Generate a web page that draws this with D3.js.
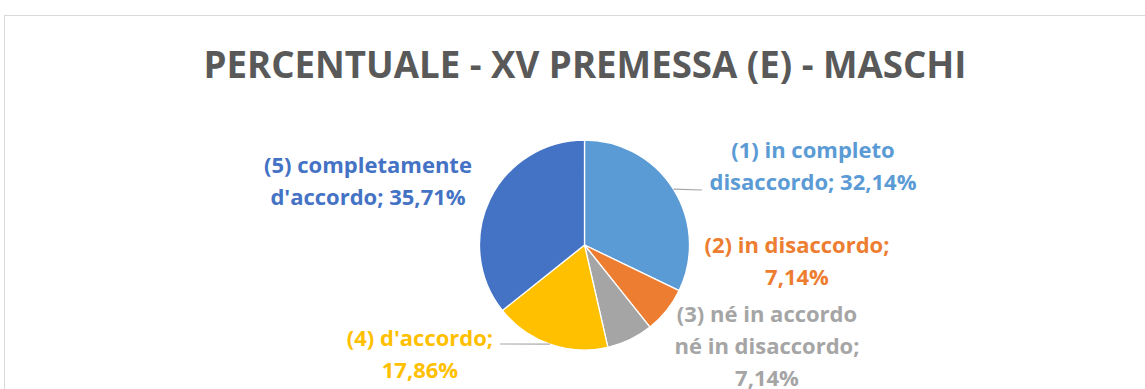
<!DOCTYPE html>
<html>
<head>
<meta charset="utf-8">
<script src="https://cdn.jsdelivr.net/npm/d3@7"></script>
<style>
  html, body { margin: 0; padding: 0; background: #fff; }
  svg { display: block; }
  text { font-family: "Open Sans", sans-serif; font-weight: 700; }
</style>
</head>
<body>
<svg id="chart" width="1145" height="389"></svg>
<script>
// Response categories, in drawing order (clockwise from 12 o'clock)
const categories = [
  "(1) in completo disaccordo",
  "(2) in disaccordo",
  "(3) né in accordo né in disaccordo",
  "(4) d'accordo",
  "(5) completamente d'accordo"
];
// Percentages for each category
const values = [32.14, 7.14, 7.14, 17.86, 35.71];
// Slice colours
const colors = ["#5B9BD5", "#ED7D31", "#A5A5A5", "#FFC000", "#4472C4"];
// Label line breaks ({v} is replaced with the formatted percentage)
const labelLines = [
  ["(1) in completo", "disaccordo; {v}"],
  ["(2) in disaccordo;", "{v}"],
  ["(3) né in accordo", "né in disaccordo;", "{v}"],
  ["(4) d'accordo;", "{v}"],
  ["(5) completamente", "d'accordo; {v}"]
];
const title = "PERCENTUALE - XV PREMESSA (E) - MASCHI";

// Layout
const W = 1145, H = 389;
const cx = 584.5, cy = 245, radius = 105;
const lineH = 32;
// label anchor (centre x, first baseline y) and optional leader-line end
const labelPos = [
  { x: 813, y: 158, leader: [702, 190] },
  { x: 797, y: 253 },
  { x: 767, y: 322 },
  { x: 420, y: 346, leader: [500, 344] },
  { x: 368, y: 173 }
];

const fmt = v => d3.format(".2f")(v).replace(".", ",") + "%";

const svg = d3.select("#chart");

// chart frame
svg.append("rect")
  .attr("x", 4.5).attr("y", 15.5)
  .attr("width", W + 20).attr("height", H + 20)
  .attr("fill", "#fff")
  .attr("stroke", "#D9D9D9").attr("stroke-width", 1);

// title
svg.append("text")
  .attr("x", 585).attr("y", 78)
  .attr("text-anchor", "middle")
  .attr("fill", "#595959")
  .attr("font-size", 37)
  .attr("textLength", 763)
  .attr("lengthAdjust", "spacingAndGlyphs")
  .text(title);

const pie = d3.pie().sort(null).value(d => d);
const arcs = pie(values);
const arc = d3.arc().innerRadius(0).outerRadius(radius);

const g = svg.append("g").attr("transform", `translate(${cx},${cy})`);

g.selectAll("path.slice")
  .data(arcs)
  .join("path")
  .attr("class", "slice")
  .attr("d", arc)
  .attr("fill", (d, i) => colors[i])
  .attr("stroke", "#fff")
  .attr("stroke-width", 1.3)
  .attr("stroke-linejoin", "round");

// leader lines from slice edge (mid-angle) to label
arcs.forEach((d, i) => {
  const p = labelPos[i];
  if (!p.leader) return;
  const mid = (d.startAngle + d.endAngle) / 2;
  const [ex, ey] = d3.pointRadial(mid, radius);
  svg.append("line")
    .attr("x1", cx + ex).attr("y1", cy + ey)
    .attr("x2", p.leader[0]).attr("y2", p.leader[1])
    .attr("stroke", "#A6A6A6").attr("stroke-width", 1.2);
});

// data labels
arcs.forEach((d, i) => {
  const p = labelPos[i];
  const t = svg.append("text")
    .attr("text-anchor", "middle")
    .attr("fill", colors[i])
    .attr("font-size", 22);
  labelLines[i].forEach((ln, k) => {
    t.append("tspan")
      .attr("x", p.x)
      .attr("y", p.y + k * lineH)
      .text(ln.replace("{v}", fmt(d.data)));
  });
});
</script>
</body>
</html>
